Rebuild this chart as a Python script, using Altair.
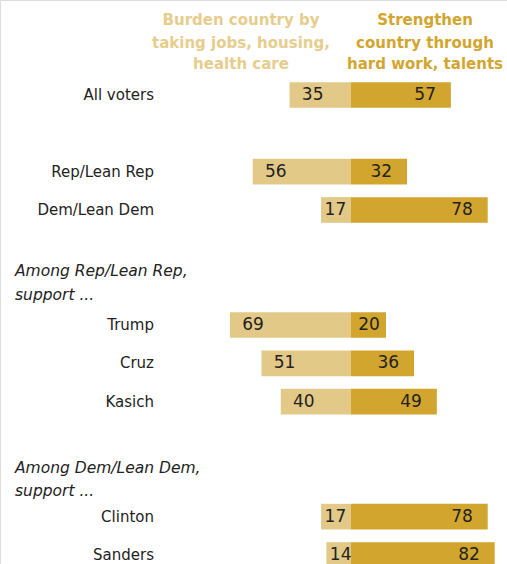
import altair as alt
import pandas as pd

categories = ["All voters", "Rep/Lean Rep", "Dem/Lean Dem", "Trump", "Cruz", "Kasich", "Clinton", "Sanders"]
slots = [0, 2, 3, 6, 7, 8, 11, 12]
burden = [35, 56, 17, 69, 51, 40, 17, 14]
strengthen = [57, 32, 78, 20, 36, 49, 78, 82]

group_lines = ["Among Rep/Lean Rep,", "support ...", "Among Dem/Lean Dem,", "support ..."]
group_slots = [4.6, 5.22, 9.74, 10.34]

header_left = ["Burden country by", "taking  jobs, housing,", "health care"]
header_right = ["Strengthen", "country through", "hard work, talents"]
header_y = [20, 43, 64]

LIGHT = "#E2C987"
DARK = "#D2A52F"
HDR_LIGHT = "#E6CD8D"

df = pd.DataFrame({"cat": categories, "slot": slots, "burden": burden, "strengthen": strengthen})
gdf = pd.DataFrame({"txt": group_lines, "slot": group_slots})
hl = pd.DataFrame({"txt": header_left, "py": header_y})
hr = pd.DataFrame({"txt": header_right, "py": header_y})

W, H = 507, 564
xs = alt.Scale(domain=[-200.1, 89.0])
ys = alt.Scale(domain=[-2.478, 12.235], reverse=True)
FONT = "DejaVu Sans"

base = alt.Chart(df).transform_calculate(
    y0="datum.slot - 0.335", y1="datum.slot + 0.335", neg="-datum.burden", zero="0",
    lx="-datum.burden + (datum.burden > 20 ? 7 : 2)",
    rx="datum.strengthen - (datum.strengthen > 25 ? 8.5 : 3.5)",
)

left_bars = base.mark_bar(color=LIGHT).encode(
    x=alt.X("neg:Q", scale=xs, axis=None), x2="zero:Q",
    y=alt.Y("y0:Q", scale=ys, axis=None), y2="y1:Q")
right_bars = base.mark_bar(color=DARK).encode(
    x=alt.X("zero:Q", scale=xs, axis=None), x2="strengthen:Q",
    y=alt.Y("y0:Q", scale=ys, axis=None), y2="y1:Q")

left_txt = base.mark_text(align="left", baseline="middle", font=FONT, fontSize=17, color="#222222").encode(
    x=alt.X("lx:Q", scale=xs, axis=None), y=alt.Y("slot:Q", scale=ys, axis=None), text="burden:Q")
right_txt = base.mark_text(align="right", baseline="middle", font=FONT, fontSize=17, color="#222222").encode(
    x=alt.X("rx:Q", scale=xs, axis=None), y=alt.Y("slot:Q", scale=ys, axis=None), text="strengthen:Q")

cat_txt = base.mark_text(align="right", baseline="middle", font=FONT, fontSize=15, color="#222222").encode(
    x=alt.value(154), y=alt.Y("slot:Q", scale=ys, axis=None), text="cat:N")

grp_txt = alt.Chart(gdf).mark_text(align="left", baseline="middle", font=FONT, fontSize=15.5,
                                     fontStyle="italic", color="#222222").encode(
    x=alt.value(15), y=alt.Y("slot:Q", scale=ys, axis=None), text="txt:N")

hl_txt = alt.Chart(hl).mark_text(align="center", baseline="middle", font=FONT, fontSize=15,
                                  fontWeight="bold", color=HDR_LIGHT).encode(
    x=alt.value(241), y=alt.Y("py:Q", scale=alt.Scale(domain=[0, H], reverse=True), axis=None), text="txt:N")
hr_txt = alt.Chart(hr).mark_text(align="center", baseline="middle", font=FONT, fontSize=15,
                                  fontWeight="bold", color=DARK).encode(
    x=alt.value(425), y=alt.Y("py:Q", scale=alt.Scale(domain=[0, H], reverse=True), axis=None), text="txt:N")

chart = alt.layer(left_bars, right_bars, left_txt, right_txt, cat_txt, grp_txt, hl_txt, hr_txt).resolve_scale(
    y="independent").properties(
    width=W, height=H, padding=0, autosize=alt.AutoSizeParams(type="none")
).configure_view(stroke=None).configure(background="white")

chart.save("out.html", embed_options={"renderer": "svg", "actions": False})
